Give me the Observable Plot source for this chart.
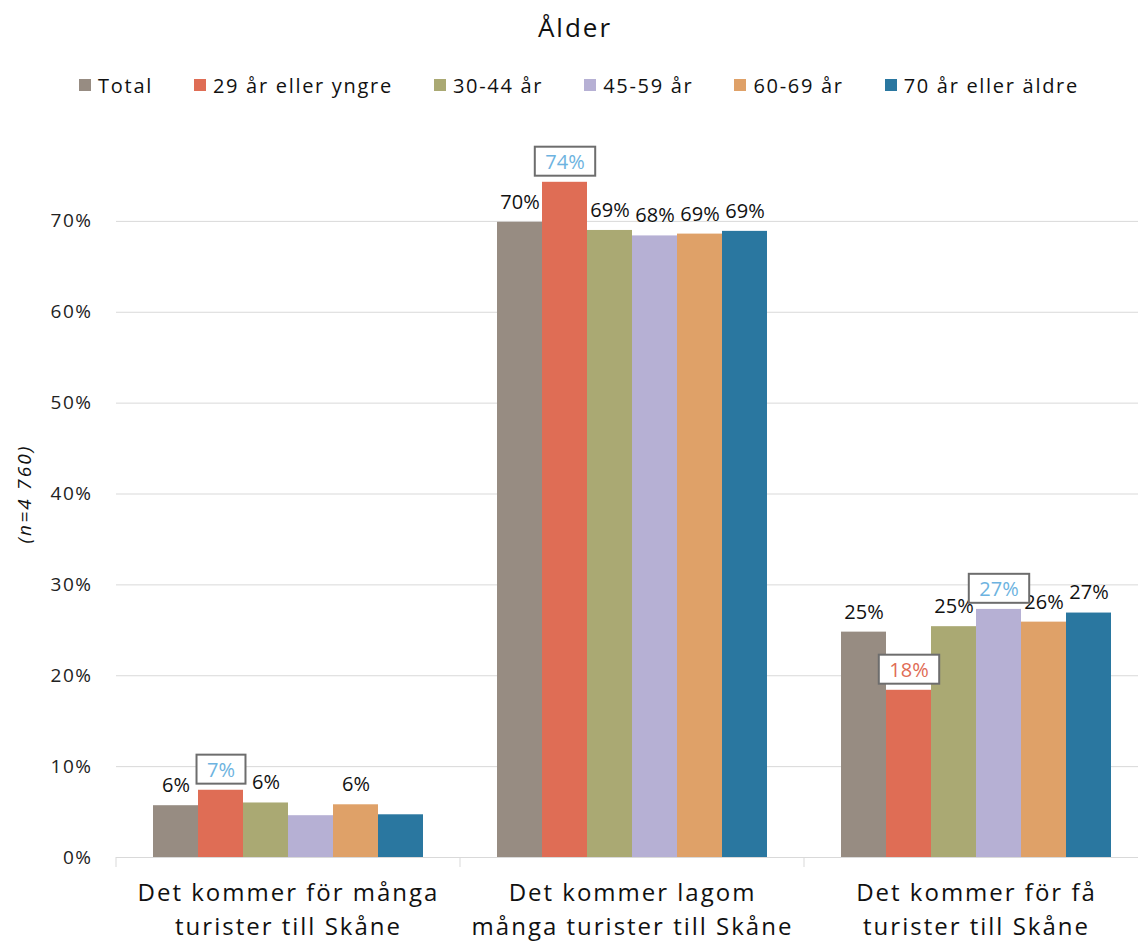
<!DOCTYPE html>
<html>
<head>
<meta charset="utf-8">
<script src="https://cdn.jsdelivr.net/npm/d3@7"></script>
<script src="https://cdn.jsdelivr.net/npm/@observablehq/plot@0.6"></script>
<style>
  body { margin: 0; background: #fff; font-family: "Open Sans", sans-serif; color: #111; }
  #title { height: 54px; line-height: 54px; text-align: center; font-size: 26px; letter-spacing: 2px; padding-left: 12px; }
  #legend { height: 62px; display: flex; align-items: center; justify-content: center; gap: 41px; padding-left: 20px; font-size: 20px; letter-spacing: 1.7px; }
  .item { display: flex; align-items: center; gap: 7px; white-space: nowrap; }
  .sw { width: 12px; height: 12px; display: inline-block; }
  #chart svg { display: block; overflow: visible; }
  #chart g[aria-label="y-axis tick label"] text { font-size: 19px; letter-spacing: 1.5px; fill: #222; }
  #chart g[aria-label="y-axis label"] text { font-size: 19px; letter-spacing: 2.2px; font-style: italic; fill: #111; }
  #chart g[aria-label="fx-axis tick label"] text { font-size: 24px; letter-spacing: 2px; fill: #111; }
</style>
</head>
<body>
<div id="title"></div>
<div id="legend"></div>
<div id="chart"></div>
<script>
// ---- data ----
const categories = [
  "Det kommer för många\nturister till Skåne",
  "Det kommer lagom\nmånga turister till Skåne",
  "Det kommer för få\nturister till Skåne"
];
const series = ["Total", "29 år eller yngre", "30-44 år", "45-59 år", "60-69 år", "70 år eller äldre"];
const colors = ["#978c82", "#df6d55", "#aaa973", "#b6b0d4", "#dfa168", "#2a77a0"];
const valuesForMany = [5.7, 7.4, 6.0, 4.6, 5.8, 4.7];
const valuesLagom = [69.9, 74.3, 69.0, 68.4, 68.6, 68.9];
const valuesForFew = [24.8, 18.4, 25.4, 27.3, 25.9, 26.9];
// significance markers: "up" = significantly higher, "down" = significantly lower
const sigForMany = ["", "up", "", "", "", ""];
const sigLagom = ["", "up", "", "", "", ""];
const sigForFew = ["", "down", "", "up", "", ""];
const yTicks = [0, 10, 20, 30, 40, 50, 60, 70];
const yLabel = "(n=4 760)";
const title = "Ålder";

// ---- table ----
const valueSets = [valuesForMany, valuesLagom, valuesForFew];
const sigSets = [sigForMany, sigLagom, sigForFew];
const data = [];
categories.forEach((c, i) => series.forEach((s, j) => {
  data.push({category: c, series: s, value: valueSets[i][j], sig: sigSets[i][j]});
}));
const fmt = d => Math.round(d.value) + "%";
const labelled = data.filter(d => d.value >= 5);

// ---- title + legend ----
document.getElementById("title").textContent = title;
const legend = document.getElementById("legend");
series.forEach((s, j) => {
  const it = document.createElement("div");
  it.className = "item";
  const sw = document.createElement("span");
  sw.className = "sw";
  sw.style.background = colors[j];
  const tx = document.createElement("span");
  tx.textContent = s;
  it.appendChild(sw); it.appendChild(tx);
  legend.appendChild(it);
});

// ---- chart ----
const textStyle = {fx: "category", x: "series", y: "value", text: fmt, dy: -20, fontSize: 20, letterSpacing: 1.5};
const chart = Plot.plot({
  width: 1138,
  height: 827,
  marginTop: 14,
  marginBottom: 86,
  marginLeft: 115,
  marginRight: 0,
  style: {fontFamily: "Open Sans", background: "white", color: "#111"},
  fx: {domain: categories, range: [115, 1148], paddingInner: 0, paddingOuter: 0, label: null, axis: null},
  x: {domain: series, paddingInner: 0, paddingOuter: 0.78, axis: null},
  y: {domain: [0, 80], axis: null},
  color: {domain: series, range: colors},
  marks: [
    Plot.gridY(yTicks.filter(t => t > 0), {stroke: "#d9d9d9", strokeOpacity: 1}),
    Plot.ruleY([0], {stroke: "#d9d9d9"}),
    Plot.barY(data, {fx: "category", x: "series", y: "value", fill: "series"}),
    Plot.text(labelled.filter(d => !d.sig), {...textStyle, fill: "#111"}),
    Plot.text(labelled.filter(d => d.sig === "up"), {...textStyle, fill: "#6db3e0", ariaDescription: "boxed"}),
    Plot.text(labelled.filter(d => d.sig === "down"), {...textStyle, fill: "#e06c55", ariaDescription: "boxed"}),
    Plot.axisY({ticks: yTicks, tickFormat: d => d + "%", tickSize: 0, tickPadding: 24, fontSize: 19,
      label: yLabel, labelAnchor: "center", labelOffset: 99, labelArrow: false}),
    Plot.axisFx({anchor: "bottom", tickSize: 0, tickPadding: 19, fontSize: 24, lineHeight: 1.42, label: null})
  ]
});
document.getElementById("chart").appendChild(chart);

// boxes around significance labels (sized from the rendered text)
const NS = "http://www.w3.org/2000/svg";
chart.querySelectorAll('g[aria-description="boxed"] text').forEach(t => {
  const b = t.getBBox();
  const r = document.createElementNS(NS, "rect");
  r.setAttribute("x", b.x - 10.5);
  r.setAttribute("y", b.y + b.height / 2 - 14.5);
  r.setAttribute("width", b.width + 21);
  r.setAttribute("height", 29);
  r.setAttribute("fill", "white");
  r.setAttribute("stroke", "#6d6d6d");
  r.setAttribute("stroke-width", 2);
  if (t.getAttribute("transform")) r.setAttribute("transform", t.getAttribute("transform"));
  t.parentNode.insertBefore(r, t);
});

// category boundary ticks, from the library's scales
try {
  const fx = chart.scale("fx");
  const y = chart.scale("y");
  const y0 = y.apply(0);
  const bounds = fx.domain.map(d => fx.apply(d));
  bounds.push(fx.apply(fx.domain[fx.domain.length - 1]) + fx.bandwidth);
  const g = document.createElementNS(NS, "g");
  bounds.forEach(bx => {
    const l = document.createElementNS(NS, "line");
    l.setAttribute("x1", bx); l.setAttribute("x2", bx);
    l.setAttribute("y1", y0); l.setAttribute("y2", y0 + 10);
    l.setAttribute("stroke", "#d9d9d9");
    g.appendChild(l);
  });
  chart.appendChild(g);
} catch (e) { console.error(e); }
</script>
</body>
</html>
